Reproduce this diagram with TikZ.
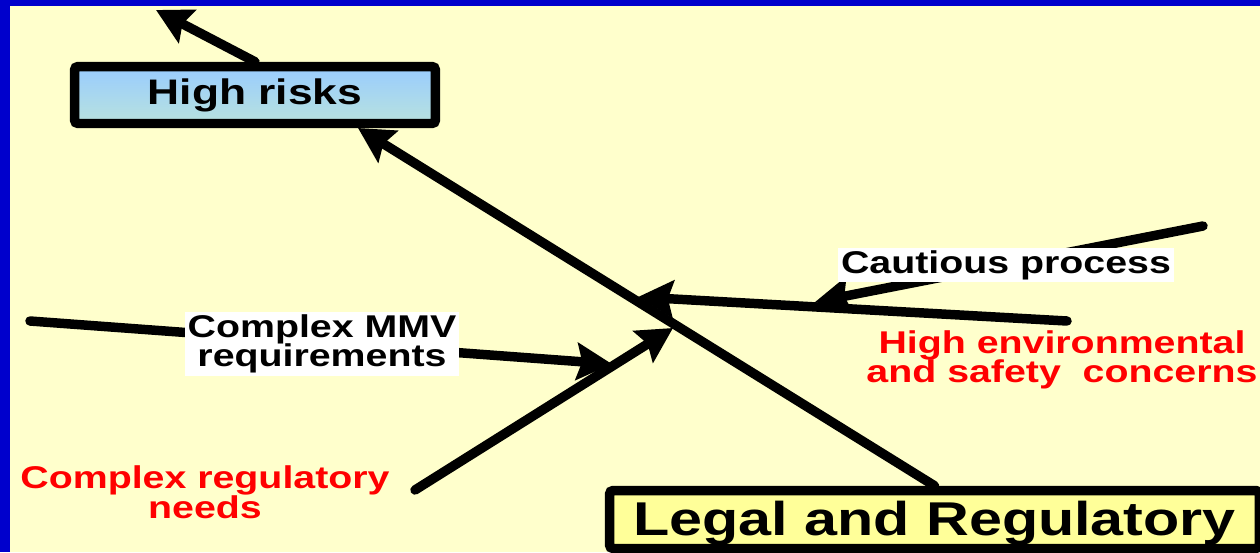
\documentclass[tikz,border=0pt]{standalone}
\usepackage{fontspec}
\setmainfont{Liberation Sans}
\newfontfamily\slidefont[FakeStretch=1.25]{Liberation Sans}
\usetikzlibrary{arrows.meta}
\definecolor{slidebg}{RGB}{255,255,204}
\definecolor{slideblue}{RGB}{0,0,204}
\definecolor{riskblue}{RGB}{153,204,255}
\definecolor{riskgreen}{RGB}{184,226,222}
\definecolor{legalfill}{RGB}{255,255,153}
\definecolor{causered}{RGB}{255,0,0}

\begin{document}
\begin{tikzpicture}[x=0.02cm,y=-0.02cm,
	bone/.style={line width=5.4pt,line cap=round,-{Stealth[length=20pt,width=21pt,inset=3pt]}},
	headbox/.style={draw,line width=5.4pt,rounded corners=2pt,inner sep=0pt},
	blacklabel/.style={fill=white,inner sep=1.5pt,align=center,font=\slidefont\bfseries\fontsize{17.9}{16.8}\selectfont},
	redlabel/.style={text=causered,align=center,font=\slidefont\bfseries\fontsize{17.9}{16.8}\selectfont}]
	\useasboundingbox (0,0) rectangle (1260,552);
	\clip (0,0) rectangle (1260,552);
	\fill[slideblue] (0,0) rectangle (1260,552);
	\fill[slidebg] (10,6) rectangle (1260,552);
	\node[headbox,top color=riskblue,bottom color=riskgreen,minimum width=7.22cm,minimum height=1.14cm,font=\slidefont\bfseries\fontsize{20.2}{22}\selectfont] (risks) at (255,95) {High risks};
	\node[headbox,fill=legalfill,minimum width=13cm,minimum height=1.16cm,text height=24pt,text depth=5.7pt,font=\slidefont\bfseries\fontsize{27}{29}\selectfont] (legal) at (934.5,519.5) {Legal and Regulatory};
	\coordinate (outcome) at (156,10);
	\coordinate (spinetip) at (358,128);
	\coordinate (mmvstart) at (30,321);
	\coordinate (mmvtip) at (612,364);
	\coordinate (regstart) at (415,490);
	\coordinate (regtip) at (673,328);
	\coordinate (envstart) at (1067,321);
	\coordinate (envtip) at (638,297);
	\coordinate (cautstart) at (1203,226);
	\coordinate (cauttip) at (815,302);
	\draw[bone] (risks.north) -- (outcome);
	\draw[bone] (legal.north) -- (spinetip);
	\draw[bone] (mmvstart) -- (mmvtip);
	\draw[bone] (regstart) -- (regtip);
	\draw[bone] (envstart) -- (envtip);
	\draw[bone] (cautstart) -- (cauttip);
	\node[blacklabel] (cautious) at (1006,265) {Cautious process};
	\node[blacklabel] (mmv) at (322,344) {Complex MMV\\requirements};
	\node[redlabel] (envsafety) at (1062,360) {High environmental\\and safety~~concerns};
	\node[redlabel] (regneeds) at (205,492) {Complex regulatory\\needs};
\end{tikzpicture}
\end{document}
